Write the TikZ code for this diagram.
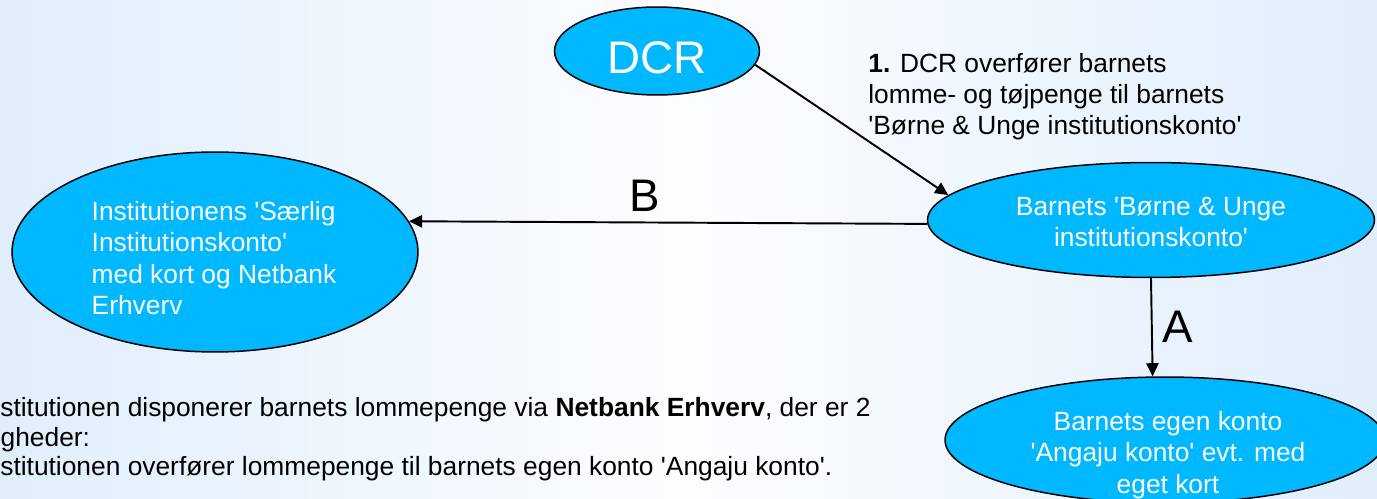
\documentclass[tikz,border=0pt]{standalone}
\usepackage{fontspec}
\setmainfont{Liberation Sans}
\usetikzlibrary{shapes.geometric,arrows.meta}
\definecolor{acctblue}{RGB}{0,184,255}
\definecolor{bgblue}{RGB}{224,238,252}
\definecolor{bgwhite}{RGB}{252,253,255}
\newcommand{\q}{\textquotesingle}
\tikzset{
  acct/.style={ellipse,draw=black,line width=0.85pt,fill=acctblue,inner sep=0pt},
  accttext/.style={text=white,font=\fontsize{15}{17.8}\selectfont,inner sep=0pt},
  flow/.style={line width=1.1pt,-{Triangle[length=7.5pt,width=7pt]}},
  bigtext/.style={font=\fontsize{26}{30}\selectfont,inner sep=0pt},
  plain/.style={font=\fontsize{15}{17.8}\selectfont,inner sep=0pt}
}
\begin{document}
\begin{tikzpicture}[x=0.02cm,y=-0.02cm]
\useasboundingbox (0,0) rectangle (1377,499);
\clip (0,0) rectangle (1377,499);
\shade[left color=bgblue,right color=bgblue,middle color=bgwhite] (0,0) rectangle (1377,499);
% accounts
\node[acct,minimum width=4.1cm,minimum height=1.76cm] (dcr) at (657,51) {};
\node[bigtext,text=white] (dcrtxt) at (657,58) {DCR};
\node[acct,minimum width=8.12cm,minimum height=4cm] (inst) at (215,252) {};
\node[accttext,align=left] (insttxt) at (214,258) {Institutionens \q Særlig\\Institutionskonto\q\\med kort og Netbank\\Erhverv};
\node[acct,minimum width=8.94cm,minimum height=2.3cm] (bu) at (1151,220) {};
\node[accttext,align=center] (butxt) at (1151,222) {Barnets \q Børne \& Unge\\institutionskonto\q};
\node[acct,minimum width=8.8cm,minimum height=2.52cm] (egen) at (1165,440) {};
\node[accttext,align=center] (egentxt) at (1168,455) {Barnets egen konto\\\q Angaju konto\q\ evt. med\\eget kort};
% transfers
\draw[flow] (dcr.-8) -- (bu.173);
\draw[flow] (bu.181) -- (inst.9.6);
\draw[flow] (bu.-90.5) -- (egen.101);
\node[bigtext] (blbl) at (645,196) {B};
\node[bigtext] (albl) at (1178,327) {A};
\node[plain,align=left,anchor=north west] (note) at (868,53) {\textbf{1.} DCR overfører barnets\\lomme- og tøjpenge til barnets\\\q Børne \& Unge institutionskonto\q};
% text below
\node[plain,anchor=base west] (line1) at (-22,417) {Institutionen disponerer barnets lommepenge via \textbf{Netbank Erhverv}, der er 2};
\node[plain,anchor=base west] (line2) at (-48,447) {muligheder:};
\node[plain,anchor=base west] (line3) at (-22,476) {Institutionen overfører lommepenge til barnets egen konto \q Angaju konto\q.};
\end{tikzpicture}
\end{document}
